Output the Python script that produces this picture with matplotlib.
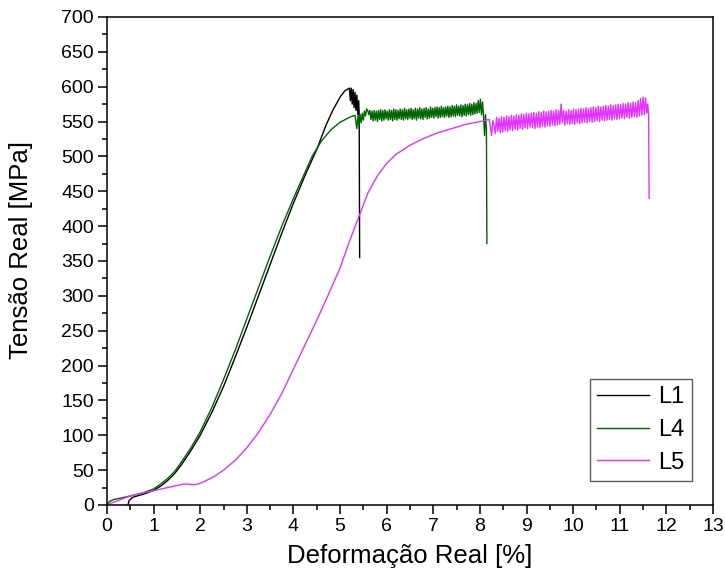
import numpy as np
import matplotlib
matplotlib.use("Agg")
import matplotlib.pyplot as plt
from matplotlib.ticker import MultipleLocator

plt.rcParams['font.family'] = ['Liberation Sans', 'DejaVu Sans']

# L1 - smooth part then serrated peak and fracture
l1_x = [0.45, 0.47, 0.55, 0.7, 0.85, 1.0, 1.15, 1.3, 1.45, 1.6, 1.8, 2.0, 2.25, 2.5, 2.75, 3.0,
        3.25, 3.5, 3.75, 4.0, 4.25, 4.5, 4.7, 4.85, 5.0, 5.1, 5.2,
        5.22, 5.24, 5.26, 5.28, 5.3, 5.32, 5.34, 5.36, 5.38, 5.4, 5.41, 5.42]
l1_y = [0, 6, 11, 14, 17, 21, 27, 35, 45, 58, 78, 100, 133, 170, 212, 255,
        300, 345, 390, 433, 473, 510, 545, 567, 585, 594, 598,
        580, 598, 575, 596, 570, 592, 566, 588, 560, 580, 560, 355]

# L4
l4_x = [0.0, 0.05, 0.15, 0.3, 0.5, 0.75, 1.0, 1.15, 1.3, 1.45, 1.6, 1.8, 2.0, 2.25, 2.5, 2.75,
        3.0, 3.25, 3.5, 3.75, 4.0, 4.2, 4.4, 4.6, 4.8, 5.0, 5.2, 5.32]
l4_y = [0, 5, 8, 10, 13, 17, 23, 30, 38, 48, 62, 82, 105, 140, 180, 222,
        267, 312, 357, 400, 440, 470, 500, 522, 538, 549, 556, 559]
l4_ser = [540, 558, 544, 560, 548, 562, 552, 565, 558, 568, 566, 560, 566, 553, 565, 551,
          566, 552, 565, 550, 566, 553, 567, 551, 566, 552, 567, 554, 565, 552, 567, 553,
          566, 551, 568, 553, 567, 552, 566, 554, 568, 553, 567, 552, 569, 554, 567, 553,
          568, 555, 569, 553, 567, 554, 569, 552, 568, 555, 570, 554, 568, 553, 569, 556,
          570, 554, 568, 555, 571, 556, 569, 555, 570, 557, 571, 555, 570, 556, 572, 557,
          570, 556, 571, 558, 572, 556, 571, 557, 573, 558, 572, 557, 574, 559, 572, 558,
          574, 557, 573, 559, 575, 558, 574, 560, 576, 559, 575, 560, 577, 561, 576, 562,
          580, 563, 582, 560, 578, 555]
l4_ser_x = (5.36, 8.08)
l4_end_x = [8.1, 8.12, 8.14, 8.15]
l4_end_y = [530, 560, 540, 375]

# L5
l5_x = [0.0, 0.1, 0.3, 0.5, 0.7, 0.9, 1.1, 1.3, 1.5, 1.65, 1.75, 1.85, 1.95, 2.1, 2.3, 2.5,
        2.75, 3.0, 3.25, 3.5, 3.75, 4.0, 4.25, 4.5, 4.75, 5.0, 5.2, 5.4, 5.6, 5.8, 6.0, 6.2,
        6.5, 6.8, 7.1, 7.4, 7.7, 8.0, 8.2]
l5_y = [0, 3, 8, 13, 16, 19, 22, 25, 28, 30, 30, 29, 30, 34, 41, 50,
        64, 82, 104, 130, 160, 195, 230, 265, 302, 340, 378, 413, 448, 472, 490, 503,
        516, 526, 534, 540, 546, 550, 553]
l5_ser = [530, 551, 545, 533, 556, 536, 555, 534, 557, 535, 556, 537, 558, 536, 557, 538,
          559, 537, 558, 539, 560, 538, 559, 540, 561, 539, 560, 541, 562, 540, 561, 542,
          562, 541, 563, 540, 562, 542, 564, 541, 563, 543, 565, 542, 564, 544, 565, 543,
          566, 545, 565, 544, 567, 545, 566, 546, 575, 548, 566, 545, 565, 547, 567, 546,
          566, 547, 568, 546, 567, 548, 568, 547, 569, 548, 568, 549, 570, 548, 569, 550,
          570, 549, 571, 550, 570, 551, 572, 550, 571, 552, 572, 551, 573, 552, 572, 553,
          574, 552, 573, 554, 574, 553, 575, 554, 574, 555, 576, 554, 575, 556, 577, 555,
          576, 556, 578, 557, 577, 556, 580, 558, 583, 559, 585, 560, 584, 562]
l5_ser_x = (8.25, 11.58)
l5_end_x = [11.6, 11.62, 11.63]
l5_end_y = [575, 560, 440]

l4_all_x = l4_x + list(np.linspace(l4_ser_x[0], l4_ser_x[1], len(l4_ser))) + l4_end_x
l4_all_y = l4_y + l4_ser + l4_end_y
l5_all_x = l5_x + list(np.linspace(l5_ser_x[0], l5_ser_x[1], len(l5_ser))) + l5_end_x
l5_all_y = l5_y + l5_ser + l5_end_y

fig = plt.figure(figsize=(7.25, 5.84), dpi=100)
ax = fig.add_axes([0.1476, 0.1353, 0.8358, 0.8356])

ax.plot(l1_x, l1_y, color='black', lw=1.0, label='L1')
ax.plot(l4_all_x, l4_all_y, color='#006400', lw=1.0, label='L4')
ax.plot(l5_all_x, l5_all_y, color='#e033ff', lw=1.0, label='L5')

ax.set_xlim(0, 13)
ax.set_ylim(0, 700)
ax.xaxis.set_major_locator(MultipleLocator(1))
ax.xaxis.set_minor_locator(MultipleLocator(0.5))
ax.yaxis.set_major_locator(MultipleLocator(50))
ax.yaxis.set_minor_locator(MultipleLocator(25))
ax.tick_params(which='major', direction='out', length=6.5, width=1.1, labelsize=14, pad=3)
ax.tick_params(which='minor', direction='out', length=3.8, width=1.1)
for s in ax.spines.values():
    s.set_linewidth(1.1)

ax.set_xlabel('Deformação Real [%]', fontsize=18.5, labelpad=6)
ax.set_ylabel('Tensão Real [MPa]', fontsize=18.5)
ax.yaxis.set_label_coords(-0.122, 0.522)

leg = ax.legend(loc='lower right', fontsize=17, frameon=True, fancybox=False,
                bbox_to_anchor=(0.965, 0.05), borderaxespad=0, handlelength=2.2,
                handletextpad=0.4, labelspacing=0.45, borderpad=0.3)
leg.get_frame().set_edgecolor('#333333')
leg.get_frame().set_linewidth(1.0)

fig.savefig('out.png', dpi=100)
